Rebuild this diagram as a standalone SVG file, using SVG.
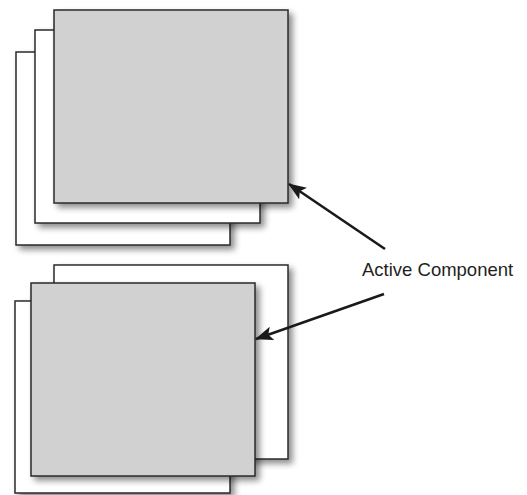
<svg xmlns="http://www.w3.org/2000/svg" width="527" height="495" viewBox="0 0 527 495">
<style>
.card{stroke:#2a2a2a;stroke-width:1.5;filter:url(#sh)}
.white{fill:#ffffff}
.grey{fill:#d1d1d1}
.conn{stroke:#1a1a1a;stroke-width:2.6;fill:none;marker-end:url(#ah)}
.lbl{font-family:"Liberation Sans",Arial,sans-serif;font-size:18.5px;fill:#231f20}
</style>
<defs>
<filter id="sh" x="-10%" y="-10%" width="130%" height="130%">
<feGaussianBlur in="SourceAlpha" stdDeviation="3"/>
<feOffset dx="4" dy="4" result="b"/>
<feComponentTransfer><feFuncA type="linear" slope="0.45"/></feComponentTransfer>
<feMerge><feMergeNode/><feMergeNode in="SourceGraphic"/></feMerge>
</filter>
<marker id="ah" markerWidth="18" markerHeight="14" refX="17" refY="7" orient="auto" markerUnits="userSpaceOnUse">
<path d="M0,0 L18,7 L0,14 L4,7 Z" fill="#1a1a1a"/>
</marker>
</defs>
<g id="top-stack">
<rect id="top-back" class="card white" x="16" y="52" width="214" height="193"/>
<rect id="top-middle" class="card white" x="35" y="30" width="225" height="193"/>
<rect id="top-front" class="card grey" x="54" y="10" width="234" height="193"/>
</g>
<g id="bottom-stack">
<rect id="bottom-back" class="card white" x="54" y="265" width="234" height="194"/>
<rect id="bottom-left" class="card white" x="15" y="301" width="215" height="192"/>
<rect id="bottom-front" class="card grey" x="31" y="283" width="224" height="193"/>
</g>
<g id="connectors">
<line class="conn" x1="385" y1="249" x2="289" y2="184"/>
<line class="conn" x1="384" y1="294" x2="256" y2="339"/>
</g>
<g id="label">
<text class="lbl" x="362" y="276">Active Component</text>
</g>
</svg>
